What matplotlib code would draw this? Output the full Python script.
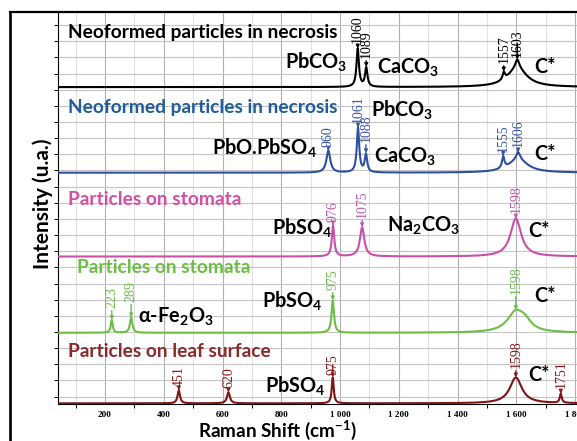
import numpy as np
import matplotlib.pyplot as plt
from matplotlib.lines import Line2D
from matplotlib.ticker import MultipleLocator, FuncFormatter

plt.rcParams['mathtext.default'] = 'regular'

# Raman shift axis (cm-1)
shift = np.arange(40, 1851, 1.0)

# Band components of each spectrum: centre (cm-1), height, half width
necro_a_pos = [1060, 1089, 1557, 1603, 1603]
necro_a_amp = [2.35, 1.17, 0.45, 1.15, 0.55]
necro_a_hw = [5, 5, 5, 40, 8]
necro_a_bands = [1060, 1089, 1557, 1603]

necro_b_pos = [960, 1061, 1088, 1555, 1606, 1606]
necro_b_amp = [1.35, 2.75, 1.10, 0.72, 0.80, 0.45]
necro_b_hw = [8, 5, 5, 5, 40, 8]
necro_b_bands = [960, 1061, 1088, 1555, 1606]

stoma_a_pos = [976, 1075, 1598]
stoma_a_amp = [1.90, 1.80, 2.35]
stoma_a_hw = [5, 9, 22]
stoma_a_bands = [976, 1075, 1598]

stoma_b_pos = [223, 289, 975, 1598, 1630]
stoma_b_amp = [0.78, 0.95, 2.00, 1.25, 0.45]
stoma_b_hw = [4, 5, 5, 35, 25]
stoma_b_bands = [223, 289, 975, 1598]

leaf_pos = [451, 620, 975, 1598, 1751]
leaf_amp = [0.80, 0.68, 1.60, 1.60, 0.56]
leaf_hw = [5, 6, 4, 25, 4]
leaf_bands = [451, 620, 975, 1598, 1751]

xticks = [200, 400, 600, 800, 1000, 1200, 1400, 1600, 1800]


def lorentz_sum(x, pos, amp, hw):
    y = np.zeros_like(x, dtype=float)
    for p, a, w in zip(pos, amp, hw):
        y += a / (1 + ((x - p) / w) ** 2)
    return y


# stacking offset, line colour, label colour, title colour, title, title pos, band label heights
spectra = [
    (necro_a_pos, necro_a_amp, necro_a_hw, necro_a_bands, 19.16,
     '#000000', '#000000', '#000000', 'Neoformed particles in necrosis', (73, 22.21),
     [21.89, 20.96, 20.65, 21.02]),
    (necro_b_pos, necro_b_amp, necro_b_hw, necro_b_bands, 13.86,
     '#2f4f9f', '#3a55a8', '#1f5c99', 'Neoformed particles in necrosis', (73, 17.54),
     [15.45, 16.93, 15.76, 15.14, 15.45]),
    (stoma_a_pos, stoma_a_amp, stoma_a_hw, stoma_a_bands, 8.67,
     '#c94faa', '#c05aaa', '#d44fa6', 'Particles on stomata', (73, 11.86),
     [10.83, 11.08, 11.36]),
    (stoma_b_pos, stoma_b_amp, stoma_b_hw, stoma_b_bands, 3.95,
     '#6dbe45', '#6dbe45', '#6bbf45', 'Particles on stomata', (104, 7.63),
     [5.49, 5.86, 6.60, 6.36]),
    (leaf_pos, leaf_amp, leaf_hw, leaf_bands, -0.42,
     '#7f1416', '#8b1a1a', '#8b2a2a', 'Particles on leaf surface', (73, 2.46),
     [0.59, 0.53, 1.33, 1.76, 0.53]),
]

# compound names: text, x, baseline y
compounds = [
    ('PbCO$_3$', 811, 20.32), ('CaCO$_3$', 1125, 20.01), ('C*', 1662, 20.03),
    ('PbCO$_3$', 1104, 17.31), ('PbO.PbSO$_4$', 564, 14.95),
    ('CaCO$_3$', 1115, 14.46), ('C*', 1662, 14.65),
    ('PbSO$_4$', 767, 10.0), ('Na$_2$CO$_3$', 1159, 10.2), ('C*', 1639, 9.9),
    ('α-Fe$_2$O$_3$', 311, 4.55), ('PbSO$_4$', 733, 5.48), ('C*', 1662, 5.87),
    ('PbSO$_4$', 743, 0.24), ('C*', 1639, 0.98),
]

sans = ['Lato', 'DejaVu Sans']
serif = ['Liberation Serif', 'DejaVu Serif']

fig = plt.figure(figsize=(5.77, 4.41), dpi=100)
ax = fig.add_axes([0.1005, 0.0839, 0.9218, 0.8889])
ax.set_xlim(40, 1850)
ax.set_ylim(-0.46, 23.81)

# grid
ax.xaxis.set_major_locator(MultipleLocator(200))
ax.xaxis.set_minor_locator(MultipleLocator(100))
ax.yaxis.set_major_locator(MultipleLocator(1))
ax.grid(which='major', axis='x', color='#b0b0b0', lw=0.8)
ax.grid(which='minor', axis='x', color='#e0e0e0', lw=0.8)
ax.grid(which='major', axis='y', color='#c4c4c4', lw=0.8)
ax.set_axisbelow(True)

ax.set_xticks(xticks)
ax.xaxis.set_major_formatter(FuncFormatter(lambda v, _: f"{int(v):,}".replace(',', ' ')))
ax.tick_params(axis='x', which='major', length=0, pad=5, labelsize=6.6)
ax.tick_params(axis='x', which='minor', length=3, direction='out', width=0.7)
ax.tick_params(axis='y', which='major', length=3, direction='out', width=0.7, labelleft=False)
for lab in ax.get_xticklabels():
    lab.set_family(serif)
    lab.set_fontweight('bold')

for side in ('top', 'right'):
    ax.spines[side].set_visible(False)
for side in ('left', 'bottom'):
    ax.spines[side].set_linewidth(0.8)

for pos, amp, hw, bands, off, lc, nc, tc, title, tpos, label_y in spectra:
    y = lorentz_sum(shift, pos, amp, hw) + off
    ax.plot(shift, y, color=lc, lw=1.5, zorder=3)
    ax.text(tpos[0], tpos[1], title, color=tc, fontsize=13.8, fontweight='bold',
            family=sans, ha='left', va='baseline')
    for b, ly in zip(bands, label_y):
        top = off + lorentz_sum(np.array([float(b)]), pos, amp, hw)[0]
        ax.annotate(str(b), xy=(b, top), xytext=(b, ly), rotation=90,
                    ha='center', va='bottom', color=nc, fontsize=10, family=serif,
                    arrowprops=dict(arrowstyle='-|>', color=nc, lw=1.0,
                                    shrinkA=0, shrinkB=0, mutation_scale=5))

for txt, x, yb in compounds:
    ax.text(x, yb, txt, fontsize=14.3, fontweight='bold', family=sans,
            ha='left', va='baseline', color='black')

fig.text(43 / 577, 1 - 204 / 441, 'Intensity (u.a.)', rotation=90, fontsize=15,
         fontweight='bold', family=sans, ha='center', va='center')
fig.text(198 / 577, 0.009, 'Raman Shift (cm$^{-1}$)', fontsize=13.6,
         fontweight='bold', family=sans, ha='left', va='baseline')

# outer frame
fig.add_artist(Line2D([9.5 / 577, 9.5 / 577], [0, 1 - 12 / 441], color='black', lw=1.9,
                      transform=fig.transFigure, solid_capstyle='projecting'))
fig.add_artist(Line2D([9.5 / 577, 1], [1 - 12 / 441, 1 - 12 / 441], color='black', lw=1.6,
                      transform=fig.transFigure, solid_capstyle='projecting'))

fig.savefig('out.png', dpi=100)
